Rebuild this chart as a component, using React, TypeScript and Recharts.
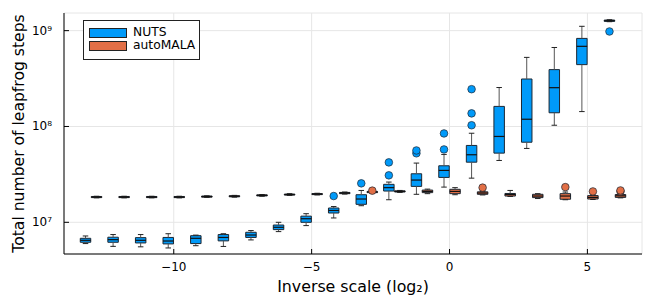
import React from 'react';
import { ComposedChart, Scatter, XAxis, YAxis, CartesianGrid, ReferenceArea, ReferenceLine, Label } from 'recharts';

const positions = [-13, -12, -11, -10, -9, -8, -7, -6, -5, -4, -3, -2, -1, 0, 1, 2, 3, 4, 5, 6];

// NUTS: whisker low, q1, median, q3, whisker high
const nutsLow = [6.0e6, 5.61e6, 5.55e6, 5.4e6, 5.7e6, 5.6e6, 6.55e6, 8.0e6, 9.24e6, 1.11e7, 1.49e7, 1.72e7, 1.96e7, 2.33e7, 2.89e7, 4.42e7, 5.9e7, 1.03e8, 1.43e8, 1.24e9];
const nutsQ1 = [6.19e6, 6.19e6, 6.09e6, 5.95e6, 6.0e6, 6.4e6, 6.95e6, 8.39e6, 1.0e7, 1.25e7, 1.54e7, 2.12e7, 2.37e7, 2.94e7, 4.24e7, 5.27e7, 6.85e7, 1.39e8, 4.42e8, 1.25e9];
const nutsMed = [6.49e6, 6.59e6, 6.49e6, 6.38e6, 6.81e6, 6.95e6, 7.37e6, 8.87e6, 1.09e7, 1.33e7, 1.75e7, 2.3e7, 2.76e7, 3.48e7, 5.07e7, 7.87e7, 1.19e8, 2.54e8, 6.86e8, 1.27e9];
const nutsQ3 = [6.81e6, 6.99e6, 6.92e6, 6.95e6, 7.25e6, 7.45e6, 7.87e6, 9.37e6, 1.16e7, 1.41e7, 1.94e7, 2.49e7, 3.21e7, 3.89e7, 6.34e7, 1.62e8, 3.13e8, 3.92e8, 8.3e8, 1.29e9];
const nutsHigh = [7.2e6, 7.45e6, 7.45e6, 7.6e6, 7.35e6, 7.6e6, 8.2e6, 1.0e7, 1.23e7, 1.46e7, 2.15e7, 2.63e7, 4.15e7, 5.11e7, 8.5e7, 2.55e8, 5.26e8, 6.67e8, 1.11e9, 1.3e9];
const nutsOutliers = [
  { x: -4, y: 1.88e7 },
  { x: -3, y: 2.55e7 },
  { x: -2, y: 3.09e7 },
  { x: -2, y: 4.22e7 },
  { x: -1, y: 5.25e7 },
  { x: -1, y: 5.62e7 },
  { x: 0, y: 5.76e7 },
  { x: 0, y: 8.46e7 },
  { x: 1, y: 1.03e8 },
  { x: 1, y: 1.37e8 },
  { x: 1, y: 2.45e8 },
  { x: 6, y: 9.8e8 },
];

// autoMALA
const malaLow = [1.8e7, 1.8e7, 1.8e7, 1.8e7, 1.82e7, 1.83e7, 1.87e7, 1.91e7, 1.93e7, 1.97e7, 2.02e7, 2.05e7, 1.99e7, 1.94e7, 1.93e7, 1.86e7, 1.77e7, 1.72e7, 1.73e7, 1.8e7];
const malaQ1 = [1.81e7, 1.81e7, 1.81e7, 1.81e7, 1.83e7, 1.845e7, 1.885e7, 1.925e7, 1.945e7, 1.99e7, 2.04e7, 2.07e7, 2.04e7, 1.99e7, 1.96e7, 1.88e7, 1.81e7, 1.74e7, 1.75e7, 1.82e7];
const malaMed = [1.835e7, 1.835e7, 1.835e7, 1.835e7, 1.857e7, 1.87e7, 1.91e7, 1.948e7, 1.97e7, 2.02e7, 2.07e7, 2.1e7, 2.1e7, 2.1e7, 2.02e7, 1.95e7, 1.88e7, 1.88e7, 1.82e7, 1.89e7];
const malaQ3 = [1.86e7, 1.86e7, 1.86e7, 1.86e7, 1.88e7, 1.895e7, 1.935e7, 1.97e7, 1.995e7, 2.05e7, 2.1e7, 2.13e7, 2.17e7, 2.21e7, 2.08e7, 2.0e7, 1.96e7, 1.99e7, 1.9e7, 1.95e7];
const malaHigh = [1.87e7, 1.87e7, 1.87e7, 1.87e7, 1.89e7, 1.91e7, 1.95e7, 1.99e7, 2.01e7, 2.07e7, 2.12e7, 2.15e7, 2.22e7, 2.3e7, 2.09e7, 2.15e7, 1.99e7, 2.07e7, 1.92e7, 1.97e7];
const malaOutliers = [
  { x: -3, y: 2.14e7 },
  { x: 1, y: 2.3e7 },
  { x: 4, y: 2.33e7 },
  { x: 5, y: 2.1e7 },
  { x: 6, y: 2.1e7 },
  { x: 6, y: 2.15e7 },
];

const xTicks = [-10, -5, 0, 5];
const yTicks = [1e7, 1e8, 1e9];

const BLUE = '#009af9';
const ORANGE = '#e26f46';
const FONT = 'DejaVu Sans, sans-serif';
const DODGE = 0.2;
const HALF_BOX = 0.19;
const HALF_CAP = 0.1;

const supers: Record<string, string> = { '7': '⁷', '8': '⁸', '9': '⁹' };

const XTick = (props: any) => {
  const { x, y, payload } = props;
  const v = payload.value;
  const label = v < 0 ? `\u2212${Math.abs(v)}` : `${v}`;
  return (
    <g>
      <line x1={x} x2={x} y1={y} y2={y - 5} stroke="#000" strokeWidth={1} />
      <text x={x} y={y + 17} textAnchor="middle" fontSize={12} fontFamily={FONT} fill="#000">{label}</text>
    </g>
  );
};

const YTick = (props: any) => {
  const { x, y, payload } = props;
  const exp = String(Math.round(Math.log10(payload.value)));
  return (
    <g>
      <line x1={x} x2={x + 5} y1={y} y2={y} stroke="#000" strokeWidth={1} />
      <text x={x - 12} y={y + 4} textAnchor="end" fontSize={12} fontFamily={FONT} fill="#000">
        10{supers[exp]}
      </text>
    </g>
  );
};

function boxes(key: string, lo: number[], q1: number[], med: number[], q3: number[], hi: number[], shift: number, fill: string) {
  const els: React.ReactNode[] = [];
  positions.forEach((p, i) => {
    const cx = p + shift;
    els.push(
      <ReferenceLine key={`${key}wu${i}`} segment={[{ x: cx, y: q3[i] }, { x: cx, y: hi[i] }]} stroke="#555" strokeWidth={1} />,
      <ReferenceLine key={`${key}wl${i}`} segment={[{ x: cx, y: lo[i] }, { x: cx, y: q1[i] }]} stroke="#555" strokeWidth={1} />,
      <ReferenceLine key={`${key}cu${i}`} segment={[{ x: cx - HALF_CAP, y: hi[i] }, { x: cx + HALF_CAP, y: hi[i] }]} stroke="#222" strokeWidth={1} />,
      <ReferenceLine key={`${key}cl${i}`} segment={[{ x: cx - HALF_CAP, y: lo[i] }, { x: cx + HALF_CAP, y: lo[i] }]} stroke="#222" strokeWidth={1} />,
      <ReferenceArea key={`${key}b${i}`} x1={cx - HALF_BOX} x2={cx + HALF_BOX} y1={q1[i]} y2={q3[i]} fill={fill} fillOpacity={1} stroke="#1c2733" strokeWidth={1} />,
      <ReferenceLine key={`${key}m${i}`} segment={[{ x: cx - HALF_BOX, y: med[i] }, { x: cx + HALF_BOX, y: med[i] }]} stroke="#111" strokeWidth={1.2} />
    );
  });
  return els;
}

const dot = (fill: string) => (props: any) => (
  <circle cx={props.cx} cy={props.cy} r={3.8} fill={fill} stroke="#1c2733" strokeWidth={0.7} />
);

const nutsPts = nutsOutliers.map((o) => ({ x: o.x - DODGE, y: o.y }));
const malaPts = malaOutliers.map((o) => ({ x: o.x + DODGE, y: o.y }));

export default function App() {
  return (
    <div style={{ position: 'absolute', left: 0, top: 0, width: 654, height: 302, background: '#fff', fontFamily: FONT }}>
      <ComposedChart width={654} height={302} margin={{ top: 13, right: 12, bottom: 0, left: 0 }}>
        <CartesianGrid stroke="#e6e6e6" strokeWidth={1} />
        <XAxis
          type="number"
          dataKey="x"
          domain={[-13.98, 6.98]}
          allowDataOverflow
          ticks={xTicks}
          tick={<XTick />}
          tickSize={0}
          tickMargin={0}
          height={48}
          axisLine={{ stroke: '#000' }}
        >
          <Label value="Inverse scale (log₂)" position="insideBottom" offset={10} style={{ fontSize: 15.8, fill: '#000', fontFamily: FONT }} />
        </XAxis>
        <YAxis
          type="number"
          dataKey="y"
          scale="log"
          domain={[4.67e6, 1.528e9]}
          allowDataOverflow
          ticks={yTicks}
          tick={<YTick />}
          tickSize={0}
          tickMargin={0}
          width={64}
          axisLine={{ stroke: '#000' }}
        >
          <Label value="Total number of leapfrog steps" angle={-90} position="insideLeft" offset={18} style={{ textAnchor: 'middle', fontSize: 15.6, fill: '#000', fontFamily: FONT }} />
        </YAxis>
        {boxes('n', nutsLow, nutsQ1, nutsMed, nutsQ3, nutsHigh, -DODGE, BLUE)}
        {boxes('a', malaLow, malaQ1, malaMed, malaQ3, malaHigh, DODGE, ORANGE)}
        <Scatter name="NUTS outliers" data={nutsPts} shape={dot(BLUE)} isAnimationActive={false} />
        <Scatter name="autoMALA outliers" data={malaPts} shape={dot(ORANGE)} isAnimationActive={false} />
      </ComposedChart>
      <div style={{ position: 'absolute', left: 83, top: 20, width: 117, height: 40, border: '1px solid #222', boxSizing: 'border-box', background: '#fff', fontSize: 12.3, color: '#000' }}>
        {[{ name: 'NUTS', color: BLUE }, { name: 'autoMALA', color: ORANGE }].map((s, i) => (
          <div key={s.name}>
            <div style={{ position: 'absolute', left: 5, top: 7 + i * 13, width: 38, height: 10, background: s.color, border: '1px solid #222', boxSizing: 'border-box' }} />
            <div style={{ position: 'absolute', left: 49, top: 4 + i * 13, lineHeight: '14px' }}>{s.name}</div>
          </div>
        ))}
      </div>
    </div>
  );
}
